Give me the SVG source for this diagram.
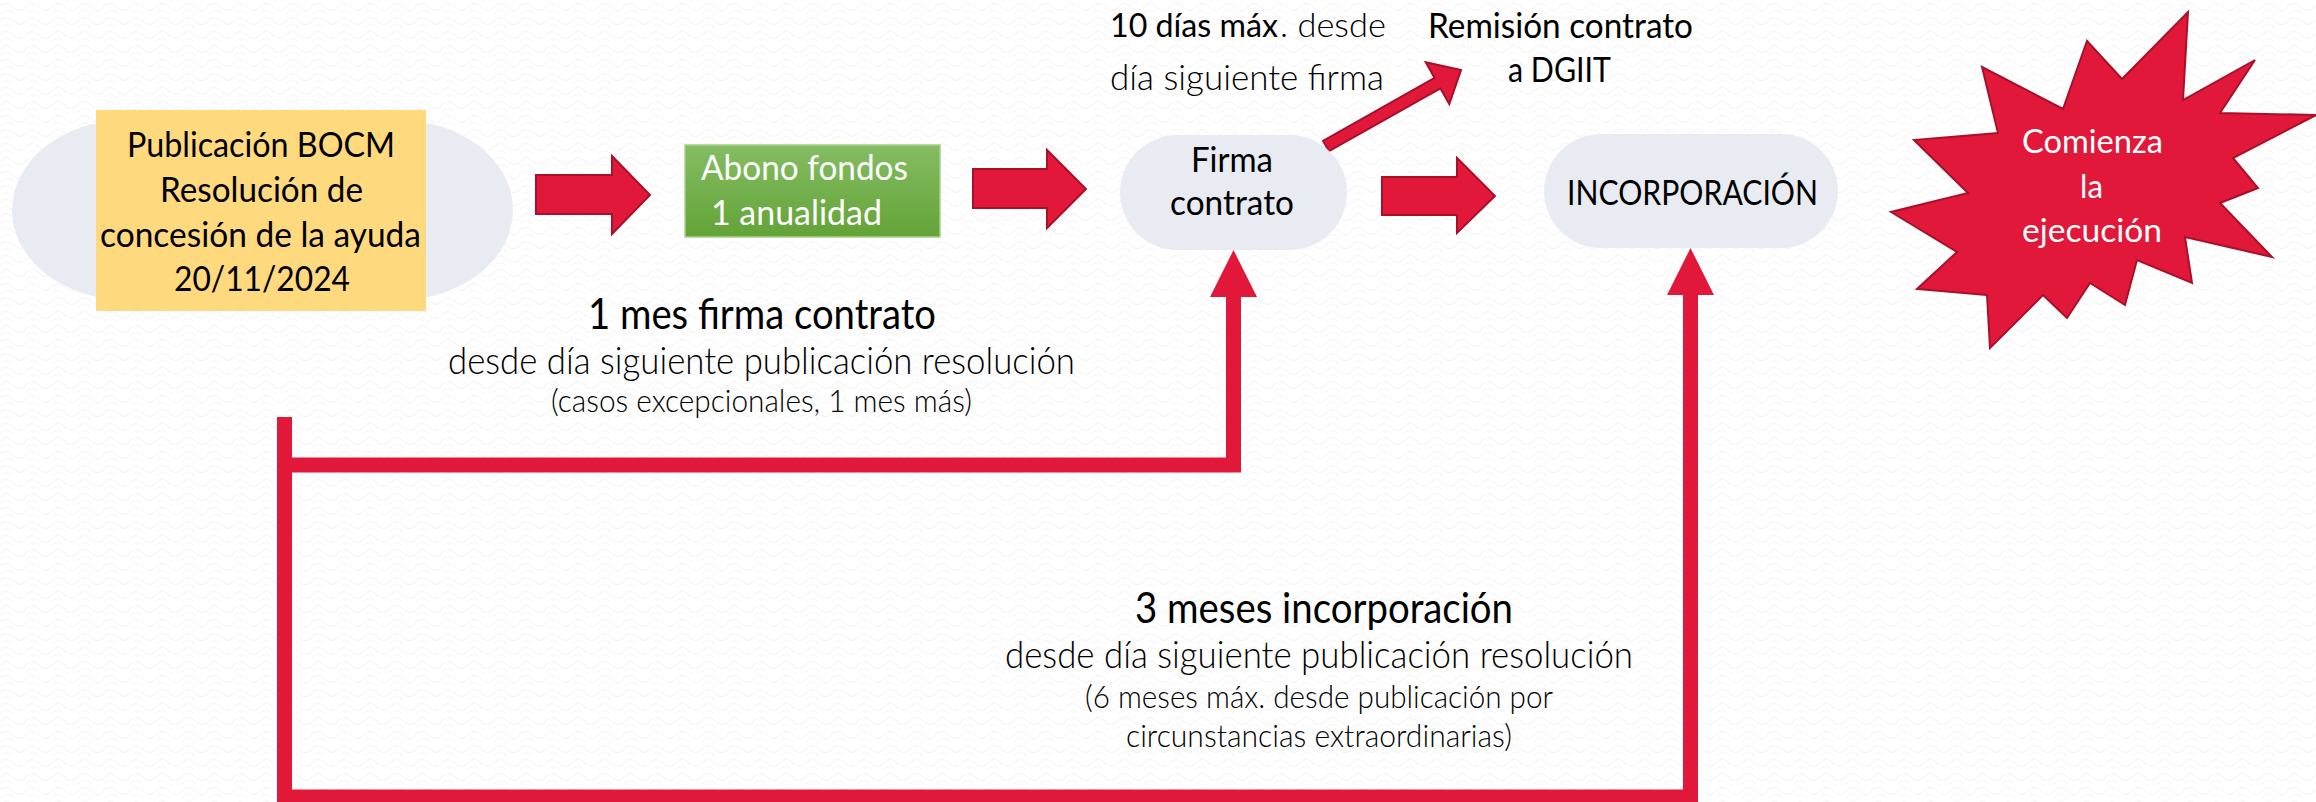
<svg xmlns="http://www.w3.org/2000/svg" width="2316" height="802" viewBox="0 0 2316 802">
<defs>
<pattern id="bg" width="26" height="14" patternUnits="userSpaceOnUse">
<rect width="26" height="14" fill="#ffffff"/>
<path d="M0 7 Q6.5 0 13 7 T26 7" fill="none" stroke="#f2f2f2" stroke-width="1"/>
<path d="M0 14 Q6.5 7 13 14 T26 14" fill="none" stroke="#f5f5f5" stroke-width="1"/>
</pattern>
<linearGradient id="green" x1="0" y1="0" x2="0" y2="1">
<stop offset="0" stop-color="#85bd63"/>
<stop offset="1" stop-color="#63a337"/>
</linearGradient>
<style>
.t{font-family:Lato,"Liberation Sans",sans-serif;font-weight:400;fill:#000}
.lt{font-family:Lato,"Liberation Sans",sans-serif;font-weight:300;fill:#000}
.wt{font-family:Lato,"Liberation Sans",sans-serif;font-weight:400;fill:#fff}
.pill{fill:#e6e9ef;opacity:0.9}
.blk{fill:#e2183a;stroke:#a81129;stroke-width:2;stroke-linejoin:miter}
.line{fill:none;stroke:#e2183a;stroke-width:15;stroke-linejoin:miter}
.head{fill:#e2183a}
</style>
</defs>
<rect width="2316" height="802" fill="url(#bg)"/>

<g id="connectors">
<path class="line" d="M284.5 417 V810"/>
<path class="line" d="M277 465 H1233.5 V296"/>
<path class="line" d="M277 797 H1690.5 V294"/>
<polygon class="head" points="1210,297 1257,297 1233.5,250"/>
<polygon class="head" points="1667,295 1714,295 1690.5,248"/>
<polygon class="blk" points="536,175 612,175 612,156 650,195 612,234 612,214 536,214"/>
<polygon class="blk" points="973,169 1047,169 1047,150 1086,189 1047,228 1047,208 973,208"/>
<polygon class="blk" points="1382,177 1457,177 1457,158 1495,196 1457,233 1457,215 1382,215"/>
<polygon class="blk" transform="translate(1326,146) rotate(-29.4)" points="0,-6 128,-6 128,-24 155,0 128,24 128,6 0,6"/>
</g>

<g id="node-publicacion">
<rect class="pill" x="12" y="120" width="501" height="180" rx="115" ry="90"/>
<rect x="96" y="110" width="330" height="201" fill="#fed97e"/>
<text class="t" font-size="34" x="127" y="157" textLength="268" lengthAdjust="spacingAndGlyphs">Publicación BOCM</text>
<text class="t" font-size="34" x="160" y="202" textLength="203" lengthAdjust="spacingAndGlyphs">Resolución de</text>
<text class="t" font-size="34" x="100" y="247" textLength="321" lengthAdjust="spacingAndGlyphs">concesión de la ayuda</text>
<text class="t" font-size="34" x="174" y="291" textLength="176" lengthAdjust="spacingAndGlyphs">20/11/2024</text>
</g>

<g id="node-abono">
<rect x="685" y="145" width="255" height="92" fill="url(#green)" stroke="#a8d08d" stroke-width="1.5"/>
<text class="wt" font-size="34" x="701" y="180" textLength="207" lengthAdjust="spacingAndGlyphs">Abono fondos</text>
<text class="wt" font-size="34" x="711" y="225" textLength="171" lengthAdjust="spacingAndGlyphs">1 anualidad</text>
</g>

<g id="node-firma">
<rect class="pill" x="1120" y="135" width="227" height="115" rx="57.5" ry="57.5"/>
<text class="t" font-size="34" x="1191" y="172" textLength="82" lengthAdjust="spacingAndGlyphs">Firma</text>
<text class="t" font-size="34" x="1170" y="215" textLength="124" lengthAdjust="spacingAndGlyphs">contrato</text>
</g>

<g id="label-10dias">
<text class="t" font-size="32" x="1110" y="37" textLength="168" lengthAdjust="spacingAndGlyphs">10 días máx</text>
<text class="lt" font-size="34" x="1280" y="37" textLength="106" lengthAdjust="spacingAndGlyphs">. desde</text>
<text class="lt" font-size="36" x="1110" y="90" textLength="274" lengthAdjust="spacingAndGlyphs">día siguiente firma</text>
</g>

<g id="node-remision">
<text class="t" font-size="34" x="1428" y="38" textLength="265" lengthAdjust="spacingAndGlyphs">Remisión contrato</text>
<text class="t" font-size="34" x="1508" y="82" textLength="103" lengthAdjust="spacingAndGlyphs">a DGIIT</text>
</g>

<g id="node-incorporacion">
<rect class="pill" x="1544" y="134" width="294" height="114" rx="57" ry="57"/>
<text class="t" font-size="34" x="1567" y="205" textLength="251" lengthAdjust="spacingAndGlyphs">INCORPORACIÓN</text>
</g>

<g id="node-comienza">
<polygon fill="#e2183a" stroke="#a81129" stroke-width="2" stroke-linejoin="miter" points="2188,12 2183,100 2255,60 2220,113 2316,115 2233,158 2258,188 2220,203 2272,257 2185,237 2192,283 2137,260 2125,305 2090,283 2067,318 2043,295 1990,348 1987,295 1917,289 1957,252 1891,212 1968,193 1914,140 1998,133 1982,67 2063,109 2087,41 2122,79"/>
<text class="wt" font-size="33" x="2022" y="153" textLength="141" lengthAdjust="spacingAndGlyphs">Comienza</text>
<text class="wt" font-size="33" x="2080" y="198" textLength="23" lengthAdjust="spacingAndGlyphs">la</text>
<text class="wt" font-size="33" x="2022" y="242" textLength="140" lengthAdjust="spacingAndGlyphs">ejecución</text>
</g>

<g id="label-1mes">
<text class="t" font-size="42" x="588" y="329" textLength="348" lengthAdjust="spacingAndGlyphs">1 mes firma contrato</text>
<text class="lt" font-size="38" x="448" y="374" textLength="627" lengthAdjust="spacingAndGlyphs">desde día siguiente publicación resolución</text>
<text class="lt" font-size="31" x="551" y="412" textLength="421" lengthAdjust="spacingAndGlyphs">(casos excepcionales, 1 mes más)</text>
</g>

<g id="label-3meses">
<text class="t" font-size="42" x="1135" y="623" textLength="378" lengthAdjust="spacingAndGlyphs">3 meses incorporación</text>
<text class="lt" font-size="38" x="1005" y="668" textLength="628" lengthAdjust="spacingAndGlyphs">desde día siguiente publicación resolución</text>
<text class="lt" font-size="31" x="1085" y="708" textLength="468" lengthAdjust="spacingAndGlyphs">(6 meses máx. desde publicación por</text>
<text class="lt" font-size="31" x="1126" y="747" textLength="386" lengthAdjust="spacingAndGlyphs">circunstancias extraordinarias)</text>
</g>
</svg>
